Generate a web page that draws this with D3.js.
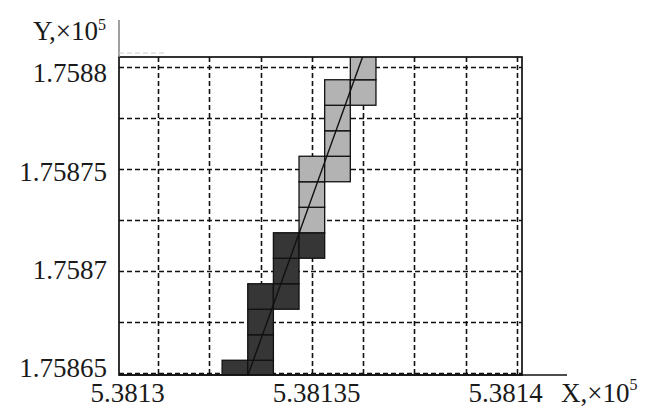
<!DOCTYPE html>
<html>
<head>
<meta charset="utf-8">
<script src="https://cdn.jsdelivr.net/npm/d3@7"></script>
<style>
  html, body { margin: 0; padding: 0; background: #fff; }
  svg { display: block; }
  text { font-family: "Liberation Serif", "Times New Roman", serif; fill: #1a1a1a; }
</style>
</head>
<body>
<svg id="chart" width="650" height="407"></svg>
<script>
// ---- data ----
const xTicks = [5.3813, 5.38135, 5.3814];
const yTicks = [1.75865, 1.7587, 1.75875, 1.7588];
// raster cells (column, row in half-grid cell units)
const darkCols  = [3, 4, 4, 4, 4, 5, 5, 5, 6];
const darkRows  = [0, 0, 1, 2, 3, 3, 4, 5, 5];
const lightCols = [6, 6, 6, 7, 7, 7, 7, 8, 8];
const lightRows = [6, 7, 8, 8, 9, 10, 11, 11, 12];
// straight line endpoints in cell units
const lineCols = [3.51, 7.99];
const lineRows = [-0.08, 12.43];

// ---- layout ----
const frame = { left: 119, right: 522, top: 57, bottom: 375 };
const svg = d3.select("#chart");

// cell scales (grid nodes at even indices)
const cx = d3.scaleLinear().domain([0, 14]).range([158, 517]);
const cy = d3.scaleLinear().domain([0, 12]).range([373, 67]);
// axis label scales
const xAxisScale = d3.scaleLinear().domain([5.3813, 5.3814]).range([127, 505]);
const yAxisScale = d3.scaleLinear().domain([1.75865, 1.7588]).range([367.5, 72.5]);

svg.append("clipPath").attr("id", "clip")
  .append("rect")
  .attr("x", frame.left).attr("y", frame.top)
  .attr("width", frame.right - frame.left).attr("height", frame.bottom - frame.top);

// grid
const gridG = svg.append("g");
gridG.selectAll("line.v").data(d3.range(0, 15, 2)).join("line")
  .attr("x1", d => Math.round(cx(d)) + 0.5).attr("x2", d => Math.round(cx(d)) + 0.5)
  .attr("y1", frame.top).attr("y2", frame.bottom)
  .attr("stroke", "#111").attr("stroke-width", 1.6).attr("stroke-dasharray", "5,3");
gridG.selectAll("line.h").data(d3.range(0, 13, 2)).join("line")
  .attr("y1", d => Math.round(cy(d)) + 0.5).attr("y2", d => Math.round(cy(d)) + 0.5)
  .attr("x1", frame.left).attr("x2", frame.right)
  .attr("stroke", "#111").attr("stroke-width", 1.6).attr("stroke-dasharray", "5,3");

// cells
const cellsG = svg.append("g").attr("clip-path", "url(#clip)");
function drawCells(cols, rows, fill) {
  const data = cols.map((c, i) => ({ c, r: rows[i] }));
  cellsG.append("g").selectAll("rect").data(data).join("rect")
    .attr("x", d => cx(d.c - 0.5))
    .attr("y", d => cy(d.r + 0.5))
    .attr("width", d => cx(d.c + 0.5) - cx(d.c - 0.5))
    .attr("height", d => cy(d.r - 0.5) - cy(d.r + 0.5))
    .attr("fill", fill).attr("stroke", "#111").attr("stroke-width", 1.3);
}
drawCells(darkCols, darkRows, "#363636");
drawCells(lightCols, lightRows, "#b3b3b3");

// line
cellsG.append("line")
  .attr("x1", cx(lineCols[0])).attr("y1", cy(lineRows[0]))
  .attr("x2", cx(lineCols[1])).attr("y2", cy(lineRows[1]))
  .attr("stroke", "#111").attr("stroke-width", 1.4);

// frame
svg.append("rect")
  .attr("x", frame.left).attr("y", frame.top)
  .attr("width", frame.right - frame.left).attr("height", frame.bottom - frame.top)
  .attr("fill", "none").attr("stroke", "#111").attr("stroke-width", 1.7);

// axis extensions
svg.append("line").attr("x1", frame.left).attr("x2", frame.left)
  .attr("y1", 20).attr("y2", frame.top)
  .attr("stroke", "#888").attr("stroke-width", 1.6);
svg.append("line").attr("x1", frame.left).attr("x2", 567)
  .attr("y1", frame.bottom).attr("y2", frame.bottom)
  .attr("stroke", "#111").attr("stroke-width", 1.7);
svg.append("line").attr("x1", frame.left).attr("x2", 165)
  .attr("y1", 53).attr("y2", 53)
  .attr("stroke", "#ccc").attr("stroke-width", 1.2).attr("stroke-dasharray", "5,3");

// axes
const xAxis = svg.append("g").attr("transform", `translate(0,${frame.bottom})`)
  .call(d3.axisBottom(xAxisScale).tickValues(xTicks).tickSize(0).tickFormat(d3.format("")));
xAxis.select(".domain").remove();
xAxis.selectAll("text").attr("y", 27).attr("dy", 0)
  .style("font-size", "27px").style("font-family", "Liberation Serif, serif").attr("fill", "#1a1a1a");

const yAxis = svg.append("g").attr("transform", `translate(${frame.left},0)`)
  .call(d3.axisLeft(yAxisScale).tickValues(yTicks).tickSize(0).tickPadding(12).tickFormat(d3.format("")));
yAxis.select(".domain").remove();
yAxis.selectAll("text").attr("dy", "0.34em")
  .style("font-size", "27px").style("font-family", "Liberation Serif, serif").attr("fill", "#1a1a1a");

// axis titles
const yt = svg.append("text").attr("x", 33).attr("y", 40).style("font-size", "27px");
yt.append("tspan").text("Y,×10");
yt.append("tspan").attr("dy", -10).style("font-size", "16px").text("5");

const xt = svg.append("text").attr("x", 561).attr("y", 402).style("font-size", "27px");
xt.append("tspan").text("X,×10");
xt.append("tspan").attr("dy", -12).style("font-size", "16px").text("5");
</script>
</body>
</html>
